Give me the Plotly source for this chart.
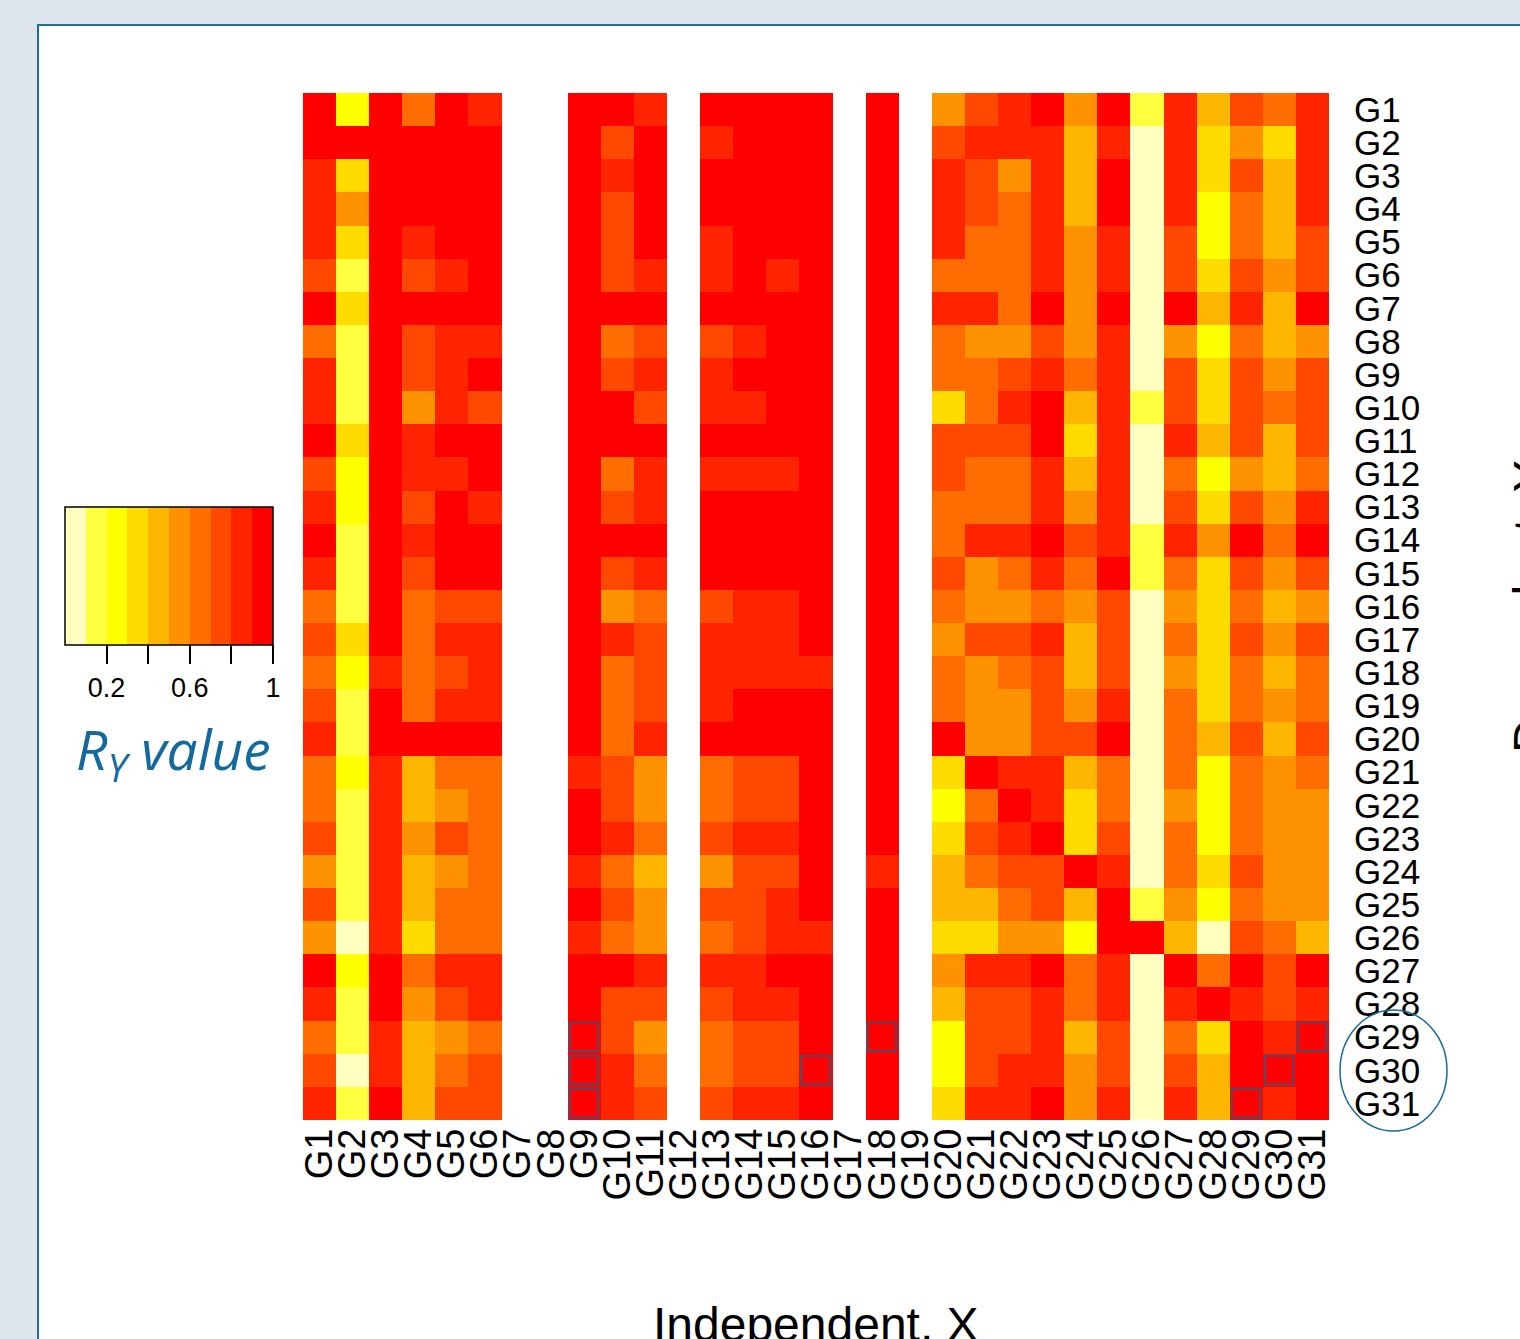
import plotly.graph_objects as go

# ---------------- data ----------------
genes = [f"G{i}" for i in range(1, 32)]          # tick labels (both axes)
x_labels = genes                                   # independent, X
y_labels = genes                                   # dependent, Y (G1 at top)

# R_Y values for each independent column (rows G1..G31); empty columns -> None
col_G1 = [.95,.95,.85,.85,.85,.75,.95,.65,.85,.85,.95,.75,.85,.95,.85,.65,.75,.65,.75,.85,.65,.65,.75,.55,.75,.55,.95,.85,.65,.75,.85]
col_G2 = [.25,.95,.35,.55,.35,.15,.35,.15,.15,.15,.35,.25,.25,.15,.15,.15,.35,.25,.15,.15,.25,.15,.15,.15,.15,.05,.25,.15,.15,.05,.15]
col_G3 = [.95,.95,.95,.95,.95,.95,.95,.95,.95,.95,.95,.95,.95,.95,.95,.95,.95,.85,.95,.95,.85,.85,.85,.85,.85,.85,.95,.95,.85,.85,.95]
col_G4 = [.65,.95,.95,.95,.85,.75,.95,.75,.75,.55,.85,.85,.75,.85,.75,.65,.65,.65,.65,.95,.45,.45,.55,.45,.45,.35,.65,.55,.45,.45,.45]
col_G5 = [.95,.95,.95,.95,.95,.85,.95,.85,.85,.85,.95,.85,.95,.95,.95,.75,.85,.75,.85,.95,.65,.55,.75,.55,.65,.65,.85,.75,.55,.65,.75]
col_G6 = [.85,.95,.95,.95,.95,.95,.95,.85,.95,.75,.95,.95,.85,.95,.95,.75,.85,.85,.85,.95,.65,.65,.65,.65,.65,.65,.85,.85,.65,.75,.75]
col_G9 = [.95,.95,.95,.95,.95,.95,.95,.95,.95,.95,.95,.95,.95,.95,.95,.95,.95,.95,.95,.95,.85,.95,.95,.85,.95,.85,.95,.95,.95,.95,.95]
col_G10 = [.95,.75,.85,.75,.75,.75,.95,.65,.75,.95,.95,.65,.75,.95,.75,.55,.85,.65,.65,.65,.75,.75,.85,.65,.75,.65,.95,.75,.75,.85,.85]
col_G11 = [.85,.95,.95,.95,.95,.85,.95,.75,.85,.75,.95,.85,.85,.95,.85,.65,.75,.75,.75,.85,.55,.55,.65,.45,.55,.55,.85,.75,.55,.65,.75]
col_G13 = [.95,.85,.95,.95,.85,.85,.95,.75,.85,.85,.95,.85,.95,.95,.95,.75,.85,.85,.85,.95,.65,.65,.75,.55,.75,.65,.85,.75,.65,.65,.75]
col_G14 = [.95,.95,.95,.95,.95,.95,.95,.85,.95,.85,.95,.85,.95,.95,.95,.85,.85,.85,.95,.95,.75,.75,.85,.75,.75,.75,.85,.85,.75,.75,.85]
col_G15 = [.95,.95,.95,.95,.95,.85,.95,.95,.95,.95,.95,.85,.95,.95,.95,.85,.85,.85,.95,.95,.75,.75,.85,.75,.85,.85,.95,.85,.75,.75,.85]
col_G16 = [.95,.95,.95,.95,.95,.95,.95,.95,.95,.95,.95,.95,.95,.95,.95,.95,.95,.85,.95,.95,.95,.95,.95,.95,.95,.85,.95,.95,.95,.95,.95]
col_G18 = [.95,.95,.95,.95,.95,.95,.95,.95,.95,.95,.95,.95,.95,.95,.95,.95,.95,.95,.95,.95,.95,.95,.95,.85,.95,.95,.95,.95,.95,.95,.95]
col_G20 = [.55,.75,.85,.85,.85,.65,.85,.65,.65,.35,.75,.75,.65,.65,.75,.65,.55,.65,.65,.95,.35,.25,.35,.45,.45,.35,.55,.45,.25,.25,.35]
col_G21 = [.75,.85,.75,.75,.65,.65,.85,.55,.65,.65,.75,.65,.65,.85,.55,.55,.75,.55,.55,.55,.95,.65,.75,.65,.45,.35,.85,.75,.75,.75,.85]
col_G22 = [.85,.85,.55,.65,.65,.65,.65,.55,.75,.85,.75,.65,.65,.85,.65,.55,.75,.65,.55,.55,.85,.95,.85,.75,.65,.55,.85,.75,.75,.85,.85]
col_G23 = [.95,.85,.85,.85,.85,.85,.95,.75,.85,.95,.95,.85,.85,.95,.85,.65,.85,.75,.75,.75,.85,.85,.95,.75,.75,.55,.95,.85,.85,.85,.95]
col_G24 = [.55,.45,.45,.45,.55,.55,.55,.55,.65,.45,.35,.45,.55,.75,.65,.55,.45,.45,.55,.75,.45,.35,.35,.95,.45,.25,.65,.65,.45,.55,.55]
col_G25 = [.95,.85,.95,.95,.85,.85,.95,.85,.85,.85,.85,.85,.85,.85,.95,.75,.75,.75,.85,.95,.65,.65,.75,.85,.95,.95,.85,.85,.75,.75,.85]
col_G26 = [.15,.05,.05,.05,.05,.05,.05,.05,.05,.15,.05,.05,.05,.15,.15,.05,.05,.05,.05,.05,.05,.05,.05,.05,.15,.95,.05,.05,.05,.05,.05]
col_G27 = [.85,.85,.85,.85,.75,.75,.95,.55,.75,.75,.85,.65,.75,.85,.65,.55,.65,.55,.65,.65,.65,.55,.65,.65,.55,.45,.95,.85,.65,.75,.85]
col_G28 = [.45,.35,.35,.25,.25,.35,.45,.25,.35,.35,.45,.25,.35,.55,.35,.35,.35,.35,.35,.45,.25,.25,.25,.35,.25,.05,.65,.95,.35,.45,.45]
col_G29 = [.75,.55,.75,.65,.65,.75,.85,.65,.75,.75,.75,.55,.75,.95,.75,.65,.75,.65,.65,.75,.65,.65,.65,.75,.65,.75,.95,.85,.95,.95,.95]
col_G30 = [.65,.35,.45,.45,.45,.55,.45,.45,.55,.65,.45,.45,.55,.65,.55,.45,.55,.45,.55,.45,.55,.55,.55,.55,.55,.65,.75,.75,.85,.95,.85]
col_G31 = [.85,.85,.85,.85,.75,.75,.95,.55,.75,.75,.75,.65,.85,.95,.75,.55,.75,.65,.65,.75,.65,.55,.55,.55,.55,.45,.95,.85,.95,.95,.95]
empty_col = [None] * 31

columns = [col_G1, col_G2, col_G3, col_G4, col_G5, col_G6, empty_col, empty_col,
           col_G9, col_G10, col_G11, empty_col, col_G13, col_G14, col_G15, col_G16,
           empty_col, col_G18, empty_col, col_G20, col_G21, col_G22, col_G23, col_G24,
           col_G25, col_G26, col_G27, col_G28, col_G29, col_G30, col_G31]

# highlighted (X, Y) cells
highlight_x = ["G9", "G9", "G9", "G16", "G18", "G29", "G30", "G31"]
highlight_y = ["G29", "G30", "G31", "G30", "G29", "G31", "G30", "G29"]

# legend
legend_ticks = [0.2, 0.4, 0.6, 0.8, 1.0]
legend_ticktext = ["0.2", "", "0.6", "", "1"]
heat_colors = ["#FFFFBF", "#FFFF40", "#FFFF00", "#FFDB00", "#FFB600",
               "#FF9200", "#FF6D00", "#FF4900", "#FF2400", "#FF0000"]

# ---------------- figure ----------------
z = [[columns[j][i] for j in range(31)] for i in range(31)]

n = len(heat_colors)
colorscale = []
for k, c in enumerate(heat_colors):
    colorscale.append([k / n, c])
    colorscale.append([(k + 1) / n, c])

W, H = 1520, 1339
L, R, T, B = 303, 1329, 93, 1120


def px(xp):
    return (xp - L) / (R - L)


def py(yp):
    return (B - yp) / (B - T)


fig = go.Figure()
fig.add_trace(go.Heatmap(
    x=x_labels, y=y_labels, z=z,
    zmin=0, zmax=1, colorscale=colorscale,
    hoverinfo="skip",
    colorbar=dict(
        orientation="h",
        xref="paper", yref="paper",
        x=px(169), xanchor="center",
        y=py(507), yanchor="top",
        len=208, lenmode="pixels",
        thickness=138, thicknessmode="pixels",
        xpad=0, ypad=0,
        outlinewidth=1.5, outlinecolor="black",
        tickmode="array", tickvals=legend_ticks, ticktext=legend_ticktext,
        ticks="outside", ticklen=19, tickwidth=2, tickcolor="black",
        tickfont=dict(size=27, family="Liberation Sans", color="black"),
    ),
))

shapes = [
    dict(type="rect", xref="paper", yref="paper", layer="below",
         x0=px(38), x1=px(1560), y0=py(25), y1=py(1380),
         fillcolor="white", line=dict(color="#1f6e9c", width=2)),
    dict(type="circle", xref="paper", yref="paper",
         x0=px(1340), x1=px(1447), y0=py(1131), y1=py(1010),
         line=dict(color="#1a6a9a", width=1.5)),
]
for hx, hy in zip(highlight_x, highlight_y):
    xi = x_labels.index(hx)
    yi = y_labels.index(hy)
    shapes.append(dict(type="rect", xref="x", yref="y",
                       x0=xi - 0.44, x1=xi + 0.42, y0=yi - 0.44, y1=yi + 0.42,
                       line=dict(color="#4f4b6b", width=2)))

annotations = [
    dict(text="<i>R<sub>Y</sub> value</i>", xref="paper", yref="paper",
         x=px(173), y=py(752), xanchor="center", yanchor="middle", showarrow=False,
         font=dict(family="Open Sans", size=55, color="#146a9e")),
    dict(text="Independent, X", xref="paper", yref="paper",
         x=px(816), y=py(1324), xanchor="center", yanchor="middle", showarrow=False,
         font=dict(family="Liberation Sans", size=48, color="black")),
    dict(text="Dependent, Y", xref="paper", yref="paper", textangle=-90,
         x=px(1530), y=py(607), xanchor="center", yanchor="middle", showarrow=False,
         font=dict(family="Liberation Sans", size=48, color="black")),
]

fig.update_layout(
    width=W, height=H, autosize=False,
    margin=dict(l=L, r=W - R, t=T, b=H - B, pad=0, autoexpand=False),
    paper_bgcolor="#dee5ec", plot_bgcolor="white",
    shapes=shapes, annotations=annotations,
    xaxis=dict(type="category", categoryorder="array", categoryarray=x_labels,
               tickmode="array", tickvals=x_labels, ticktext=x_labels,
               tickangle=-90, showgrid=False, zeroline=False, showline=False,
               ticks="", ticklabelstandoff=0, automargin=False,
               tickfont=dict(family="Liberation Sans", size=38, color="black")),
    yaxis=dict(type="category", categoryorder="array", categoryarray=y_labels,
               tickmode="array", tickvals=y_labels, ticktext=y_labels,
               autorange="reversed", side="right", showgrid=False, zeroline=False,
               showline=False, ticks="", ticklabelstandoff=24, automargin=False,
               tickfont=dict(family="Liberation Sans", size=35, color="black")),
)

fig.write_html("out.html", config={"displayModeBar": False})
with open("out.html", "r", encoding="utf-8") as f:
    html = f.read()
html = html.replace("<body>", '<body style="margin:0;padding:0;overflow:hidden">', 1)
with open("out.html", "w", encoding="utf-8") as f:
    f.write(html)
